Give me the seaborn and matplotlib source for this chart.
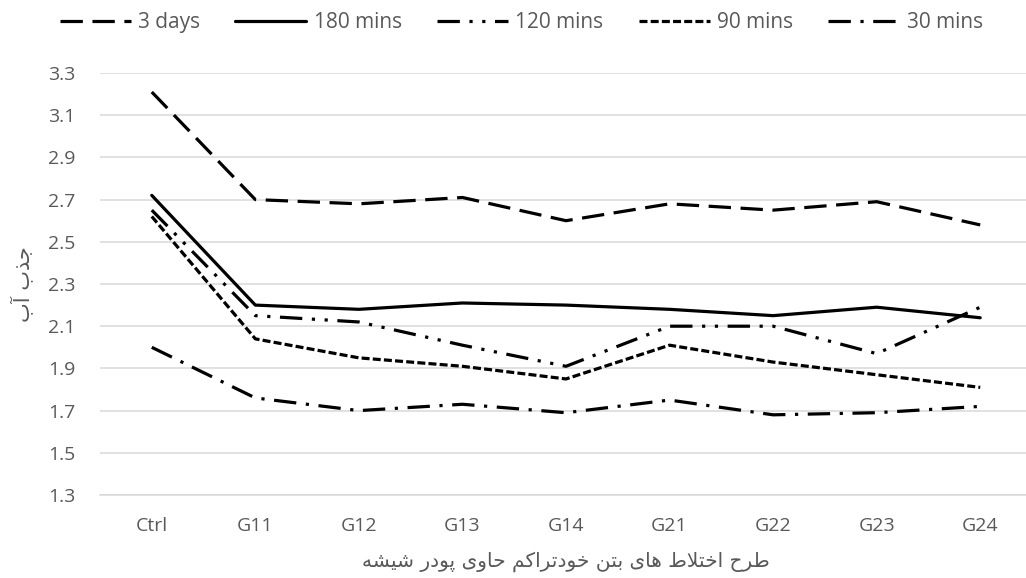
import pandas as pd
import matplotlib
matplotlib.use("Agg")
import matplotlib.pyplot as plt
import seaborn as sns

# values
mixes = ["Ctrl", "G11", "G12", "G13", "G14", "G21", "G22", "G23", "G24"]
days3 = [3.21, 2.70, 2.68, 2.71, 2.60, 2.68, 2.65, 2.69, 2.58]
mins180 = [2.72, 2.20, 2.18, 2.21, 2.20, 2.18, 2.15, 2.19, 2.14]
mins120 = [2.65, 2.15, 2.12, 2.01, 1.91, 2.10, 2.10, 1.97, 2.19]
mins90 = [2.62, 2.04, 1.95, 1.91, 1.85, 2.01, 1.93, 1.87, 1.81]
mins30 = [2.00, 1.76, 1.70, 1.73, 1.69, 1.75, 1.68, 1.69, 1.72]
series_names = ["3 days", "180 mins", "120 mins", "90 mins", "30 mins"]
y_ticks = [1.3, 1.5, 1.7, 1.9, 2.1, 2.3, 2.5, 2.7, 2.9, 3.1, 3.3]

x_title = "طرح اختلاط های بتن خودتراکم حاوی پودر شیشه"
y_title = "جذب آب"

# simple Arabic/Persian shaping (presentation forms) + visual order
FORMS = {
    "ا": ("\uFE8D", "\uFE8E", None, None),
    "آ": ("\uFE81", "\uFE82", None, None),
    "ب": ("\uFE8F", "\uFE90", "\uFE91", "\uFE92"),
    "پ": ("\uFB56", "\uFB57", "\uFB58", "\uFB59"),
    "ت": ("\uFE95", "\uFE96", "\uFE97", "\uFE98"),
    "ج": ("\uFE9D", "\uFE9E", "\uFE9F", "\uFEA0"),
    "ح": ("\uFEA1", "\uFEA2", "\uFEA3", "\uFEA4"),
    "خ": ("\uFEA5", "\uFEA6", "\uFEA7", "\uFEA8"),
    "د": ("\uFEA9", "\uFEAA", None, None),
    "ذ": ("\uFEAB", "\uFEAC", None, None),
    "ر": ("\uFEAD", "\uFEAE", None, None),
    "ش": ("\uFEB5", "\uFEB6", "\uFEB7", "\uFEB8"),
    "ط": ("\uFEC1", "\uFEC2", "\uFEC3", "\uFEC4"),
    "ک": ("\uFB8E", "\uFB8F", "\uFB90", "\uFB91"),
    "ل": ("\uFEDD", "\uFEDE", "\uFEDF", "\uFEE0"),
    "م": ("\uFEE1", "\uFEE2", "\uFEE3", "\uFEE4"),
    "ن": ("\uFEE5", "\uFEE6", "\uFEE7", "\uFEE8"),
    "ه": ("\uFEE9", "\uFEEA", "\uFEEB", "\uFEEC"),
    "و": ("\uFEED", "\uFEEE", None, None),
    "ی": ("\uFBFC", "\uFBFD", "\uFBFE", "\uFBFF"),
}


def shape(text):
    out = []
    for word in text.split(" "):
        letters = list(word)
        res = []
        i = 0
        while i < len(letters):
            c = letters[i]
            prev = letters[i - 1] if i > 0 else None
            joins_prev = prev is not None and FORMS[prev][2] is not None
            if c == "ل" and i + 1 < len(letters) and letters[i + 1] == "ا":
                res.append("\uFEFC" if joins_prev else "\uFEFB")
                i += 2
                continue
            nxt = letters[i + 1] if i + 1 < len(letters) else None
            joins_next = nxt is not None and FORMS[c][2] is not None
            iso, fin, ini, med = FORMS[c]
            if joins_prev and joins_next:
                res.append(med)
            elif joins_prev:
                res.append(fin)
            elif joins_next:
                res.append(ini)
            else:
                res.append(iso)
            i += 1
        out.append("".join(res))
    return " ".join(out)[::-1]


df = pd.DataFrame({
    "mix": mixes * 5,
    "value": days3 + mins180 + mins120 + mins90 + mins30,
    "series": [s for s in series_names for _ in mixes],
})

sns.set_style("white")
plt.rcParams["font.family"] = ["Open Sans", "DejaVu Sans"]

fig = plt.figure(figsize=(10.26, 5.78), dpi=100)
ax = fig.add_axes([100 / 1026, 1 - 495 / 578, 932 / 1026, 422 / 578])

dashes = {
    "3 days": (7, 3),
    "180 mins": "",
    "120 mins": (7, 3, 1, 3, 1, 3),
    "90 mins": (2.5, 1),
    "30 mins": (7, 3, 1, 3),
}
palette = {s: "black" for s in series_names}
sns.lineplot(data=df, x="mix", y="value", hue="series", style="series",
             palette=palette, dashes=dashes, sort=False, linewidth=2.3,
             ax=ax, legend=True)

handles, labels = ax.get_legend_handles_labels()
ax.get_legend().remove()
fig.legend(handles, labels, loc="upper center", bbox_to_anchor=(0.508, 1.012),
           ncol=5, frameon=False, handlelength=3.4, handletextpad=0.35,
           columnspacing=1.7, fontsize=15, labelcolor="#595959")

ax.set_xlim(-0.5, 8.5)
ax.set_ylim(1.3, 3.3)
ax.set_yticks(y_ticks)
ax.set_yticklabels([f"{v:.1f}" for v in y_ticks])
ax.grid(axis="y", color="#d9d9d9", linewidth=1.1)
ax.set_axisbelow(True)
for s in ["top", "right", "left"]:
    ax.spines[s].set_visible(False)
ax.spines["bottom"].set_color("#d9d9d9")
ax.spines["bottom"].set_linewidth(1.1)

ax.set_xticks(range(len(mixes)))
ax.set_xticks([i - 0.5 for i in range(len(mixes) + 1)], minor=True)
ax.tick_params(axis="x", which="major", length=0, pad=16, labelsize=14,
               labelcolor="#595959")
ax.tick_params(axis="x", which="minor", length=5, width=1.1, color="#d9d9d9",
               direction="out")
ax.tick_params(axis="y", length=0, pad=18, labelsize=14, labelcolor="#595959")

ax.set_xlabel(shape(x_title), fontsize=14.5, color="#595959",
              family=["DejaVu Sans"], labelpad=12)
ax.set_ylabel(shape(y_title), fontsize=15, color="#595959",
              family=["DejaVu Sans"], labelpad=10)

fig.savefig("out.png", dpi=100, facecolor="white")
